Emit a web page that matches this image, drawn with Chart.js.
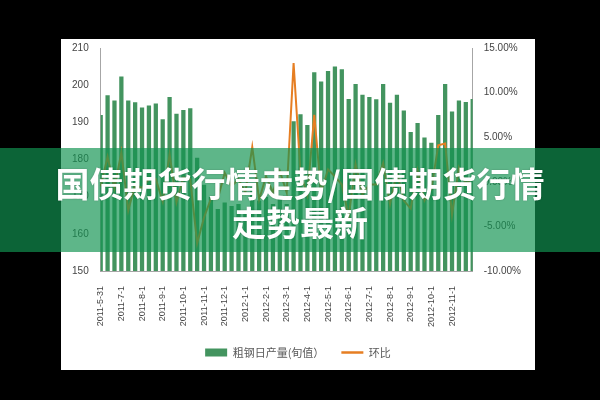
<!DOCTYPE html>
<html>
<head>
<meta charset="utf-8">
<script src="https://cdn.jsdelivr.net/npm/chart.js@4.4.0/dist/chart.umd.min.js"></script>
<style>
  body { margin: 0; background: #000; width: 600px; height: 400px; overflow: hidden; position: relative; }
  #box { position: absolute; left: 61px; top: 39px; width: 474px; height: 331px; background: #fff; overflow: hidden; }
  #myChart { position: absolute; left: 0; top: -9px; }
  #banner {
    position: absolute; left: 0; top: 148px; width: 600px; height: 104px;
    background: rgba(18, 147, 81, 0.68); color: #fff;
    font: bold 34px "Noto Sans CJK SC", sans-serif; line-height: 39px;
    text-align: center; padding-top: 15px; box-sizing: border-box;
    text-shadow: 0 0 2px rgba(0, 0, 0, 0.25);
  }
</style>
</head>
<body>
<div id="box"><canvas id="myChart" width="474" height="340"></canvas></div>
<div id="banner">国债期货行情走势/国债期货行情<br>走势最新</div>
<script>
// tick labels on the x axis, one every 3 bars
var tickLabels = ['2011-5-31', '2011-7-1', '2011-8-1', '2011-9-1', '2011-10-1', '2011-11-1',
  '2011-12-1', '2012-1-1', '2012-2-1', '2012-3-1', '2012-4-1', '2012-5-1', '2012-6-1',
  '2012-7-1', '2012-8-1', '2012-9-1', '2012-10-1', '2012-11-1'];

// 粗钢日产量(旬值)
var output = [192, 197.3, 195.9, 202.3, 195.9, 195.4, 194, 194.5, 195.1, 190.8,
  196.8, 192.3, 193.3, 193.8, 180.5, 173.2, 170, 166.7, 168.4, 167.5,
  168, 166, 172.5, 169, 170, 168, 170, 168, 190.3, 192.2,
  189.3, 203.5, 201, 203.8, 205, 204.3, 196.3, 200.3, 197.4, 196.8,
  196.2, 200.3, 195.3, 197.4, 193.2, 187.4, 189.8, 185.9, 184.5, 192,
  200.3, 192.9, 195.9, 195.5, 196.3];

// 环比 (%)
var change = [-0.5, 2.8, -0.7, 3.3, -3.2, -0.3, -0.7, 0.3, 0.3, -2.2,
  3.1, -2.3, 0.5, 0.3, -6.9, -4.0, -1.9, -1.9, 1.0, -0.5,
  0.3, -1.2, 3.9, -2.0, 0.6, -1.2, 1.2, -1.2, 13.3, 1.0,
  -1.5, 7.5, -1.2, 1.4, 0.6, -0.3, -3.9, 2.0, -1.4, -0.3,
  -0.3, 2.1, -2.5, 1.1, -2.1, -3.0, 1.3, -2.1, -0.8, 4.1,
  4.3, -3.7, 1.6, -0.2, 0.4];

var categories = output.map(function(v, i) {
  return i % 3 === 0 ? (tickLabels[i / 3] || '') : '';
});

var barColor = '#43945f';
var lineColor = '#e67e22';
var axisColor = '#a6a6a6';

Chart.defaults.font.family = '"Liberation Sans", Arial, sans-serif';
Chart.defaults.color = '#444';

var ctx = document.getElementById('myChart');
var chart = new Chart(ctx, {
  type: 'bar',
  data: {
    labels: categories,
    datasets: [{
      label: '粗钢日产量(旬值）',
      data: output,
      backgroundColor: barColor,
      yAxisID: 'y',
      order: 1,
      categoryPercentage: 1,
      barPercentage: 0.62
    }, {
      type: 'line',
      label: '环比',
      data: change,
      borderColor: lineColor,
      backgroundColor: lineColor,
      borderWidth: 2,
      pointRadius: 0,
      tension: 0,
      yAxisID: 'y1',
      order: 0
    }]
  },
  options: {
    responsive: false,
    animation: false,
    layout: { padding: { top: 0, left: 0, right: 0, bottom: 2 } },
    scales: {
      x: {
        offset: false,
        grid: { display: false, drawTicks: false },
        border: { color: axisColor },
        ticks: { autoSkip: false, minRotation: 90, maxRotation: 90, padding: 15, font: { size: 9 } },
        afterFit: function(scale) { scale.height = 59; }
      },
      y: {
        position: 'left',
        min: 150,
        max: 210,
        grid: { display: false, drawTicks: false },
        border: { color: axisColor },
        ticks: { stepSize: 10, padding: 12, font: { size: 10 } },
        afterFit: function(scale) { scale.width = 39.7; }
      },
      y1: {
        position: 'right',
        min: -10,
        max: 15,
        grid: { display: false, drawTicks: false },
        border: { color: axisColor },
        ticks: {
          stepSize: 5, padding: 11, font: { size: 10 },
          callback: function(v) { return v.toFixed(2) + '%'; }
        },
        afterFit: function(scale) { scale.width = 62.3; }
      }
    },
    plugins: {
      tooltip: { enabled: false },
      legend: {
        position: 'bottom',
        labels: {
          usePointStyle: true,
          pointStyleWidth: 22,
          boxHeight: 8,
          padding: 17,
          color: '#595959',
          font: { size: 11, family: '"Noto Sans CJK SC", sans-serif' },
          generateLabels: function(chart) {
            var items = Chart.defaults.plugins.legend.labels.generateLabels(chart);
            items.forEach(function(it) {
              if (it.datasetIndex === 0) {
                it.pointStyle = 'rect';
                it.lineWidth = 0;
                it.fillStyle = barColor;
              } else {
                it.pointStyle = 'line';
                it.lineWidth = 2.5;
                it.strokeStyle = lineColor;
              }
            });
            return items.sort(function(a, b) { return a.datasetIndex - b.datasetIndex; });
          }
        }
      }
    }
  }
});
</script>
</body>
</html>
